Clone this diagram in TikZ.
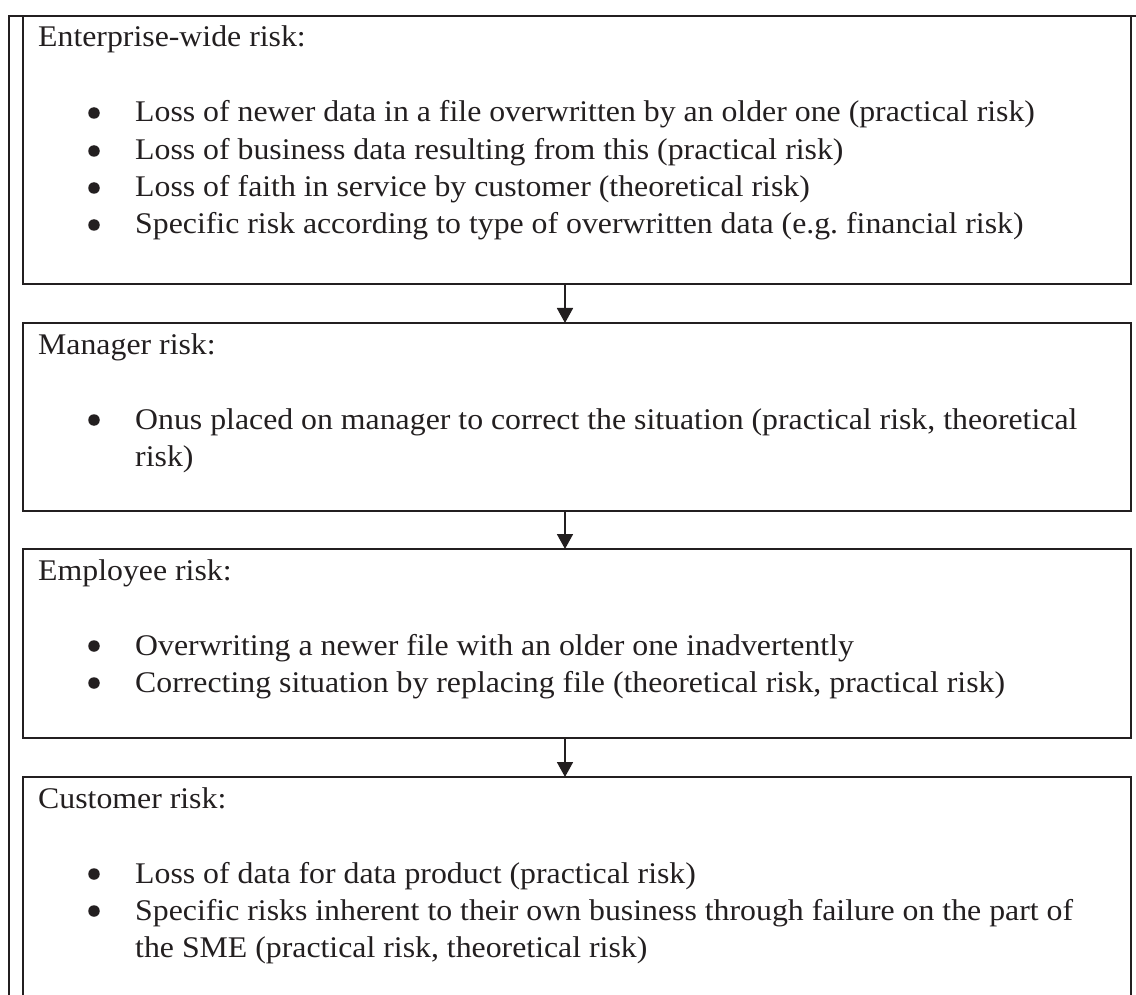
\documentclass[tikz,border=0pt]{standalone}
\usepackage{fontspec}
\setmainfont{Liberation Serif}[FakeStretch=1.06]
\usetikzlibrary{arrows.meta}
\definecolor{ink}{HTML}{231F20}
\begin{document}
\begin{tikzpicture}[x=1pt,y=-1pt,
  font=\fontsize{30}{37.5}\selectfont,
  riskbox/.style={draw=ink, line width=2pt, anchor=north west, minimum width=1108pt, inner sep=0pt, outer sep=0pt},
  heading/.style={anchor=base west, inner sep=0pt, text=ink},
  item/.style={anchor=base west, inner sep=0pt, text=ink},
  dot/.style={circle, fill=ink, minimum size=11.5pt, inner sep=0pt},
  flow/.style={draw=ink, line width=1.8pt, -{Triangle[length=15pt,width=16pt]}}]
\useasboundingbox (0,0) rectangle (1136,995);

% outer frame (left and top edges)
\draw[ink, line width=2pt] (9,995) -- (9,16) -- (1136,16);

% the four risk boxes
\node[riskbox, minimum height=268pt] (b1) at (23,16) {};
\node[riskbox, minimum height=188pt] (b2) at (23,323) {};
\node[riskbox, minimum height=189pt] (b3) at (23,549) {};
\node[riskbox, minimum height=240pt] (b4) at (23,777) {};

% box 1
\node[heading] (h1) at (38,47) {Enterprise-wide risk:};
\node[dot] (d11) at (94,113) {};
\node[item] (t11) at (135,122) {Loss of newer data in a file overwritten by an older one (practical risk)};
\node[dot] (d12) at (94,151) {};
\node[item] (t12) at (135,160) {Loss of business data resulting from this (practical risk)};
\node[dot] (d13) at (94,188) {};
\node[item] (t13) at (135,197) {Loss of faith in service by customer (theoretical risk)};
\node[dot] (d14) at (94,225) {};
\node[item] (t14) at (135,234) {Specific risk according to type of overwritten data (e.g.\ financial risk)};

% box 2
\node[heading] (h2) at (38,354) {Manager risk:};
\node[dot] (d21) at (94,420) {};
\node[item] (t21) at (135,429) {Onus placed on manager to correct the situation (practical risk, theoretical};
\node[item] (t22) at (135,466) {risk)};

% box 3
\node[heading] (h3) at (38,580) {Employee risk:};
\node[dot] (d31) at (94,646) {};
\node[item] (t31) at (135,655) {Overwriting a newer file with an older one inadvertently};
\node[dot] (d32) at (94,683) {};
\node[item] (t32) at (135,692) {Correcting situation by replacing file (theoretical risk, practical risk)};

% box 4
\node[heading] (h4) at (38,808) {Customer risk:};
\node[dot] (d41) at (94,874) {};
\node[item] (t41) at (135,883) {Loss of data for data product (practical risk)};
\node[dot] (d42) at (94,911) {};
\node[item] (t42) at (135,920) {Specific risks inherent to their own business through failure on the part of};
\node[item] (t43) at (135,957) {the SME (practical risk, theoretical risk)};

% connectors
\coordinate (ax) at (565,0);
\draw[flow] (b1.south -| ax) -- (b2.north -| ax);
\draw[flow] (b2.south -| ax) -- (b3.north -| ax);
\draw[flow] (b3.south -| ax) -- (b4.north -| ax);
\end{tikzpicture}
\end{document}
